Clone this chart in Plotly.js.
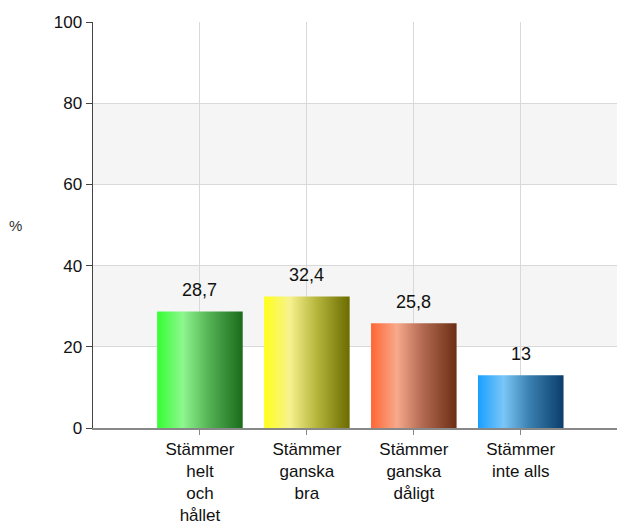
<!DOCTYPE html>
<html>
<head>
<meta charset="utf-8">
<script src="https://cdn.plot.ly/plotly-3.0.1.min.js"></script>
<style>
  html, body { margin: 0; padding: 0; background: #fff; }
  #chart { width: 617px; height: 528px; }
</style>
</head>
<body>
<div id="chart"></div>
<script>
const categories = [
  "Stämmer<br>helt<br>och<br>hållet",
  "Stämmer<br>ganska<br>bra",
  "Stämmer<br>ganska<br>dåligt",
  "Stämmer<br>inte alls"
];
const values = [28.7, 32.4, 25.8, 13];
const valueLabels = ["28,7", "32,4", "25,8", "13"];
const yTicks = [0, 20, 40, 60, 80, 100];
const yBands = [[20, 40], [60, 80]];

// gradient stops per bar: left, highlight, mid, right
const gradients = [
  ["#33ff33", "#8ef78e", "#55b355", "#1a6b1a"],
  ["#ffff1a", "#f7f28f", "#b8b840", "#6b6b00"],
  ["#ff6633", "#f7a98b", "#b36a52", "#6b2e14"],
  ["#1a9fff", "#7ac6f7", "#3a80b0", "#0a3d6b"]
];
const baseColors = gradients.map(g => g[2]);

const font = { family: "Liberation Sans, Arial, sans-serif", size: 18, color: "#111" };

const trace = {
  type: "bar",
  x: categories,
  y: values,
  marker: { color: baseColors, line: { width: 0 } },
  width: 0.8,
  hoverinfo: "none"
};

const annotations = values.map((v, i) => ({
  x: categories[i], y: v, xref: "x", yref: "y",
  text: valueLabels[i], showarrow: false,
  yanchor: "bottom", yshift: 9,
  font: { family: font.family, size: 18, color: "#111" }
}));
annotations.push({
  xref: "paper", yref: "paper", x: -0.147, y: 0.5,
  xanchor: "center", yanchor: "middle",
  text: "%", showarrow: false,
  font: { family: font.family, size: 15, color: "#333" }
});

const shapes = yBands.map(b => ({
  type: "rect", xref: "paper", yref: "y",
  x0: 0, x1: 1, y0: b[0], y1: b[1],
  fillcolor: "#f5f5f5", line: { width: 0 }, layer: "below"
}));

const layout = {
  width: 617, height: 528,
  margin: { l: 93, r: 0, t: 22, b: 100 },
  paper_bgcolor: "#fff", plot_bgcolor: "rgba(0,0,0,0)",
  font: font,
  showlegend: false,
  xaxis: {
    type: "category",
    range: [-1, 3.9],
    showgrid: true, gridcolor: "#d9d9d9", gridwidth: 1,
    showline: true, linecolor: "#888", linewidth: 1.5,
    ticks: "outside", ticklen: 5, tickcolor: "#888",
    tickfont: { family: font.family, size: 17, color: "#111" },
    zeroline: false, fixedrange: true
  },
  yaxis: {
    range: [0, 100],
    tickvals: yTicks,
    showgrid: true, gridcolor: "#d9d9d9", gridwidth: 1,
    showline: true, linecolor: "#444", linewidth: 1.5,
    ticks: "outside", ticklen: 6, tickcolor: "#444",
    tickfont: { family: font.family, size: 17, color: "#111" },
    zeroline: false, fixedrange: true
  },
  shapes: shapes,
  annotations: annotations,
  bargap: 0.2
};

Plotly.newPlot("chart", [trace], layout, { displayModeBar: false, staticPlot: true }).then(gd => {
  const ns = "http://www.w3.org/2000/svg";
  const svg = gd.querySelector(".main-svg");
  let defs = svg.querySelector("defs");
  if (!defs) { defs = document.createElementNS(ns, "defs"); svg.insertBefore(defs, svg.firstChild); }
  const offs = [0, 0.3, 0.6, 1];
  gradients.forEach((g, i) => {
    const lg = document.createElementNS(ns, "linearGradient");
    lg.setAttribute("id", "bargrad" + i);
    lg.setAttribute("x1", "0"); lg.setAttribute("y1", "0");
    lg.setAttribute("x2", "1"); lg.setAttribute("y2", "0");
    g.forEach((c, k) => {
      const st = document.createElementNS(ns, "stop");
      st.setAttribute("offset", offs[k]);
      st.setAttribute("stop-color", c);
      lg.appendChild(st);
    });
    defs.appendChild(lg);
  });
  const paths = gd.querySelectorAll(".barlayer .point path");
  paths.forEach((p, i) => {
    p.style.fill = "url(#bargrad" + i + ")";
    p.style.fillOpacity = 1;
  });
});
</script>
</body>
</html>
